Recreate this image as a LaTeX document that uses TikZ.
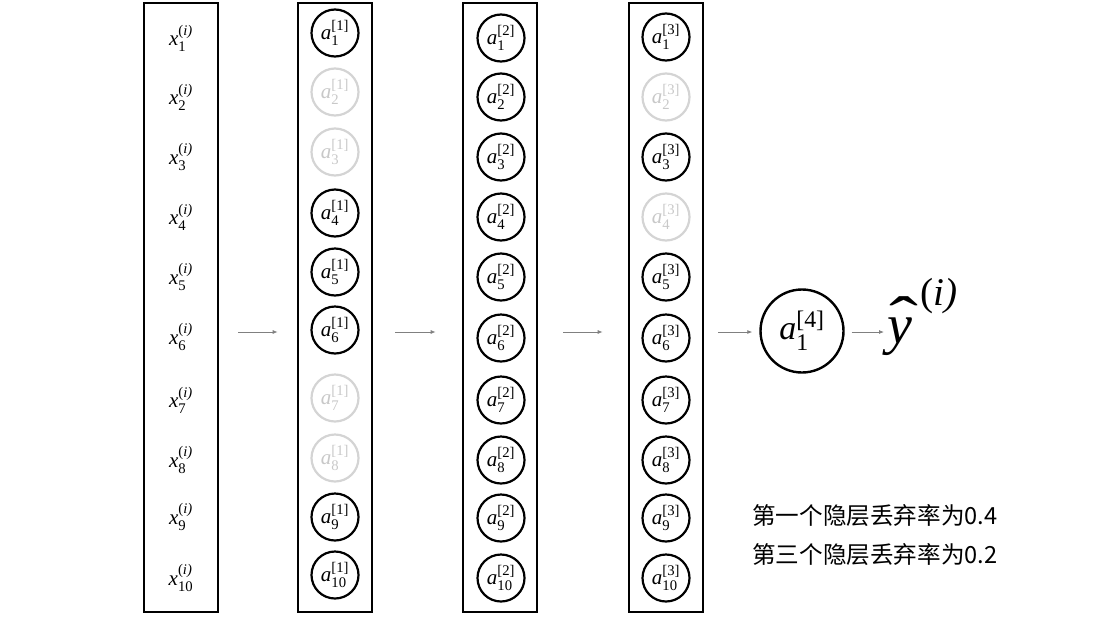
\documentclass[tikz,border=0pt]{standalone}
\usepackage{amsmath}
\usepackage{graphicx}
\usepackage{fontspec}
\setmainfont{Liberation Serif}
\newfontfamily\cjk{Noto Sans CJK SC}
\usetikzlibrary{arrows.meta}
\definecolor{dropgray}{RGB}{212,212,212}
\definecolor{droptext}{RGB}{200,200,200}
\definecolor{arrgray}{RGB}{128,128,128}
\newcommand\xl[1]{$\text{\itshape x}_{\text{#1}}^{\text{(\itshape i\/)}}$}
\newcommand\al[2]{$\text{\itshape a}_{\text{#1}}^{\text{[#2]}}$}
\newcommand\yhat{\makebox[0pt][l]{\hspace{0.04em}\raisebox{0.07em}{\scalebox{1.55}[1.1]{\symbol{"02C6}}}}\textit{y}}
\begin{document}
\begin{tikzpicture}[x=1pt,y=-1pt,
  box/.style={draw, line width=2.6pt, minimum width=74pt, minimum height=609pt, inner sep=0pt},
  neuron/.style={circle, draw, line width=2.2pt, minimum size=47pt, inner sep=0pt, font=\fontsize{21}{21}\selectfont},
  drop/.style={neuron, draw=dropgray, text=droptext},
  inp/.style={inner sep=0pt, font=\fontsize{21}{21}\selectfont},
  big/.style={circle, draw, line width=2.4pt, minimum size=83pt, inner sep=0pt, font=\fontsize{34}{34}\selectfont},
  arr/.style={draw=arrgray, line width=0.8pt, -{Latex[length=5pt,width=4pt]}},
  note/.style={anchor=west, inner sep=0pt, font=\cjk\fontsize{23.6}{23.6}\selectfont}]
\useasboundingbox (0,0) rectangle (1099,616);
% layer boxes
\node[box] (B0) at (181,307.5) {};
\node[box] (B1) at (335,307.5) {};
\node[box] (B2) at (500,307.5) {};
\node[box] (B3) at (666,307.5) {};
% inputs
\foreach \k/\y in {1/38,2/97,3/157,4/217,5/277,6/337,7/400,8/460,9/517,10/578}
  \node[inp] (X\k) at (181,\y) {\xl{\k}};
% hidden layer 1
\foreach \k/\y/\s in {1/33/neuron,2/92/drop,3/152/drop,4/213/neuron,5/272/neuron,6/330/neuron,7/398/drop,8/458/drop,9/517/neuron,10/575/neuron}
  \node[\s] (A1-\k) at (335,\y) {\al{\k}{1}};
% hidden layer 2
\foreach \k/\y in {1/38,2/97,3/157,4/217,5/277,6/338,7/400,8/460,9/518,10/578}
  \node[neuron] (A2-\k) at (501,\y) {\al{\k}{2}};
% hidden layer 3
\foreach \k/\y/\s in {1/37/neuron,2/97/drop,3/157/neuron,4/217/drop,5/277/neuron,6/338/neuron,7/400/neuron,8/460/neuron,9/518/neuron,10/578/neuron}
  \node[\s] (A3-\k) at (666,\y) {\al{\k}{3}};
% output
\node[big] (A4) at (802,331) {\al{1}{4}};
\node[inner sep=0pt, anchor=base west, font=\fontsize{56}{56}\selectfont] (Y) at (887,343) {$\text{\yhat}^{\,\,\text{(\itshape i\/)}}$};
% arrows
\coordinate (lvl) at (0,332);
\draw[arr, shorten <=19pt, shorten >=19pt] (B0.east |- lvl) -- (B1.west |- lvl);
\draw[arr, shorten <=22pt, shorten >=26pt] (B1.east |- lvl) -- (B2.west |- lvl);
\draw[arr, shorten <=25pt, shorten >=25pt] (B2.east |- lvl) -- (B3.west |- lvl);
\draw[arr, shorten <=14pt, shorten >=7pt] (B3.east |- lvl) -- (A4.west |- lvl);
\draw[arr, shorten <=7pt, shorten >=3pt] (A4.east |- lvl) -- (Y.west |- lvl);
% notes
\node[note] (N1) at (752,516) {第一个隐层丢弃率为0.4};
\node[note] (N2) at (752,555) {第三个隐层丢弃率为0.2};
\end{tikzpicture}
\end{document}
